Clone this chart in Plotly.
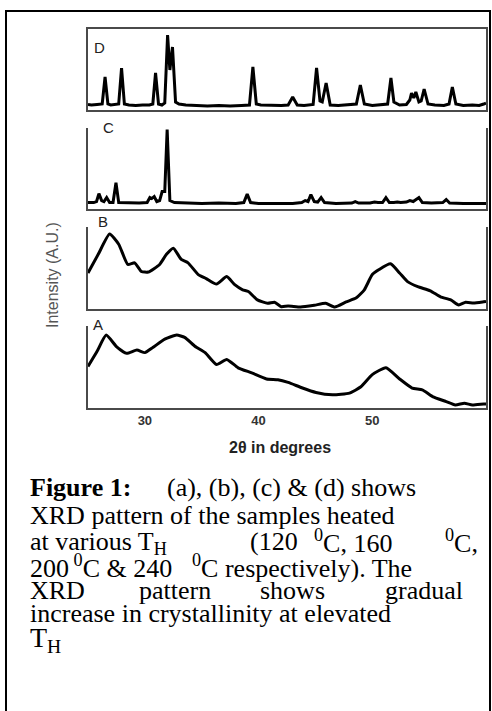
import plotly.graph_objects as go

# XRD patterns (2theta in degrees, intensity in arbitrary units)
tt_D = [25.0, 25.3, 25.8, 26.25, 26.5, 26.75, 27.0, 27.4, 27.7, 27.95, 28.2, 28.6, 29.2, 29.8,
        30.4, 30.7, 30.94, 31.2, 31.5, 31.75, 32.0, 32.2, 32.43, 32.7, 33.0, 33.6, 34.5, 35.5,
        36.5, 37.5, 38.5, 39.2, 39.5, 39.8, 40.2, 41.0, 42.0, 42.6, 43.0, 43.4, 44.0, 44.8,
        45.1, 45.4, 45.6, 45.94, 46.3, 47.0, 48.0, 48.6, 48.95, 49.3, 50.0, 50.8, 51.35, 51.64,
        51.9, 52.4, 53.0, 53.3, 53.45, 53.65, 53.83, 54.1, 54.3, 54.56, 54.9, 55.5, 56.3, 56.75,
        57.04, 57.35, 58.0, 58.8, 59.4, 59.8, 60.0]
int_D = [5.5, 5, 5.5, 6, 33, 6, 5, 5.5, 6, 42, 6, 5, 4.5, 5,
         5, 6, 37, 6, 5, 7, 75, 40, 63, 8, 6, 5, 4.5, 4,
         4.5, 4, 4.5, 5, 43, 6, 5, 4.5, 4.5, 5, 13, 5, 4.5, 5.5,
         42, 9, 8, 27, 5, 4.5, 5, 6, 25, 6, 4.5, 5, 6, 32,
         8, 5, 5.5, 10, 17, 12, 18, 8, 9, 21, 6, 5, 4.5, 6,
         23, 6, 4.5, 5, 4.5, 6, 7]

tt_C = [25.0, 25.5, 25.75, 25.96, 26.2, 26.4, 26.64, 26.9, 27.2, 27.46, 27.7, 28.5, 29.5, 30.2,
        30.44, 30.6, 30.82, 31.05, 31.3, 31.52, 31.75, 31.96, 32.2, 32.6, 33.5, 35.0, 36.5, 38.0,
        38.7, 39.0, 39.3, 40.0, 41.5, 43.0, 43.8, 44.1, 44.35, 44.6, 44.9, 45.2, 45.5, 45.8,
        46.8, 48.2, 48.5, 48.8, 49.8, 50.2, 50.5, 50.9, 51.2, 51.5, 51.9, 52.2, 52.5, 53.0,
        53.3, 53.6, 54.1, 54.4, 55.2, 56.2, 56.5, 56.8, 58.0, 59.0, 60.0]
int_C = [6, 6, 7, 15, 8, 7, 11, 6, 6, 26, 6, 5.5, 5.5, 6,
         11, 10, 12, 7, 8, 17, 17, 79.5, 8, 6, 5.5, 5, 5.5, 5,
         6, 14.5, 6, 5, 5, 5, 6, 8, 7, 14, 7, 6.5, 11, 6,
         5, 5.5, 7, 5.5, 5.5, 6.5, 6, 6, 11, 6, 6, 6.5, 6, 6.5,
         8, 7, 11, 6, 5.5, 6, 9, 5.5, 5, 5, 5]

tt_B = [25.0, 25.9, 26.9, 27.7, 28.5, 29.1, 29.7, 30.3, 31.3, 31.9, 32.5, 33.2, 33.8, 34.7,
        35.4, 36.3, 37.2, 37.9, 38.6, 39.1, 39.9, 40.8, 41.4, 42.0, 42.6, 43.7, 44.9, 45.9,
        46.7, 47.7, 48.6, 49.3, 50.0, 50.6, 51.6, 52.4, 53.1, 54.0, 55.1, 56.0, 56.9, 57.6,
        58.2, 58.9, 59.7, 60.0]
int_B = [35.6, 54, 74, 64, 44, 45.6, 37, 36.5, 44, 54, 60, 49, 45.6, 34,
         30, 24.6, 32, 24, 19, 17.3, 9, 5.6, 6.6, 2.3, 3, 2, 3.7, 5.6,
         2, 7, 11, 19, 34, 39, 44.6, 35.6, 27, 22, 18, 12, 9, 4,
         6.6, 6, 7, 7.5]

tt_A = [25.0, 25.8, 26.6, 27.5, 28.4, 29.3, 30.0, 30.7, 31.75, 32.8, 33.5, 34.4, 35.3, 36.3,
        37.2, 38.2, 39.4, 40.7, 41.7, 42.6, 43.8, 45.05, 46.5, 48.0, 49.0, 50.0, 51.2, 52.4,
        53.5, 54.4, 55.3, 56.5, 57.3, 58.1, 58.8, 59.8, 60.0]
int_A = [41, 56, 72, 60.7, 54, 57.3, 54.7, 59.7, 68, 72, 69.7, 61, 54.7, 43,
         48, 39.7, 34.7, 28.7, 28, 25.3, 20, 15.3, 13, 14.7, 21, 33, 39.7, 28.7,
         19.7, 18, 11.3, 6.3, 3, 4.7, 3, 4, 4]

panel_labels = ["A", "B", "C", "D"]
x_ticks = [30, 40, 50, 60]

W, H = 492, 711


def px(x):
    return x / W


def py(y):
    return 1 - y / H


# panel pixel extents (top, bottom) from bottom panel A up to D
panels = [(326, 408), (227, 309), (128, 208.5), (29, 110)]
series = [(tt_A, int_A), (tt_B, int_B), (tt_C, int_C), (tt_D, int_D)]
label_pos = [(98, 324), (103, 222), (108, 127), (99, 48)]

axcol = "#4a4a4a"
fig = go.Figure()
layout = {}
for i, ((top, bot), (xs, ys)) in enumerate(zip(panels, series)):
    n = "" if i == 0 else str(i + 1)
    fig.add_trace(go.Scatter(x=xs, y=ys, mode="lines", xaxis="x" + n, yaxis="y" + n,
                             line=dict(color="black", width=3,
                                       shape="spline" if i < 2 else "linear", smoothing=0.5),
                             showlegend=False, hoverinfo="skip"))
    layout["xaxis" + n] = dict(domain=[px(88), px(486)], range=[25, 60], anchor="y" + n,
                               showline=True, linecolor=axcol, linewidth=1.5,
                               mirror=(i == 3), showgrid=False, zeroline=False, ticks="",
                               tickvals=x_ticks, showticklabels=(i == 0),
                               tickfont=dict(family="Arial", size=13, color="#333", weight="bold"))
    layout["yaxis" + n] = dict(domain=[py(bot), py(top)], range=[0, 81], anchor="x" + n,
                               showline=True, linecolor=axcol, linewidth=1.5, mirror=True,
                               showgrid=False, zeroline=False, ticks="", showticklabels=False)
fig.update_layout(**layout)

ann = []
for lab, (lx, ly) in zip(panel_labels, label_pos):
    ann.append(dict(text=lab, x=px(lx), y=py(ly), xref="paper", yref="paper",
                    showarrow=False, xanchor="center", yanchor="middle",
                    font=dict(family="Arial", size=15, color="#222")))

ann.append(dict(text="Intensity (A.U.)", x=px(52), y=py(275), xref="paper", yref="paper",
                showarrow=False, textangle=-90, xanchor="center", yanchor="middle",
                font=dict(family="Arial", size=16, color="#555")))
ann.append(dict(text="2θ in degrees", x=px(280), y=py(447), xref="paper", yref="paper",
                showarrow=False, xanchor="center", yanchor="middle",
                font=dict(family="Arial", size=16, color="#222", weight="bold")))

# caption, laid out line by line (justified lines split into pieces)
serif = "Liberation Serif, Times New Roman, serif"
caption = [
    ("<b>Figure 1:</b>", 28, 487), ("(a), (b), (c) & (d) shows", 165, 487),
    ("XRD pattern of the samples heated", 28, 515),
    ("at various T<sub>H</sub>", 28, 543), ("(120", 248, 541),
    ("<sup>0</sup>C, 160", 312, 541), ("<sup>0</sup>C,", 443, 541),
    ("200<sup> 0</sup>C & 240", 28, 566), ("<sup>0</sup>C respectively). The", 190, 566),
    ("XRD", 28, 590), ("pattern", 137, 590), ("shows", 258, 590), ("gradual", 383, 590),
    ("increase in crystallinity at elevated", 28, 613),
]
for txt, cx, cy in caption:
    ann.append(dict(text=txt, x=px(cx), y=py(cy), xref="paper", yref="paper",
                    showarrow=False, xanchor="left", yanchor="middle",
                    font=dict(family=serif, size=26, color="black")))
ann.append(dict(text="T<sub>H</sub>", x=px(28), y=py(639), xref="paper", yref="paper",
                showarrow=False, xanchor="left", yanchor="middle",
                font=dict(family=serif, size=28, color="black")))

fig.update_layout(
    width=W, height=H, margin=dict(l=0, r=0, t=0, b=0),
    paper_bgcolor="white", plot_bgcolor="white",
    annotations=ann,
    shapes=[dict(type="rect", xref="paper", yref="paper",
                 x0=px(6), x1=px(490), y0=py(716), y1=py(11),
                 line=dict(color="black", width=2))],
)

fig.write_html("out.html", config={"displayModeBar": False},
               post_script="document.body.style.margin='0';")
